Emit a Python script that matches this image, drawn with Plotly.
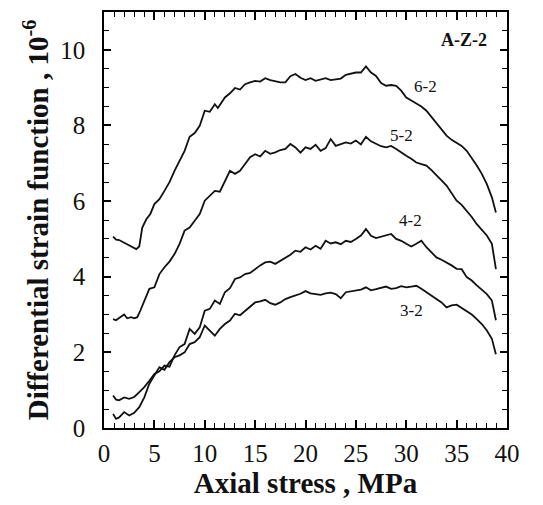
import plotly.graph_objects as go

# ---- data ----
x_62 = [0.9, 1.2, 1.5, 2.0, 2.5, 2.8, 3.2, 3.5, 3.8, 4.2, 4.6, 5.0, 5.5, 6.0, 6.5, 7.0, 7.5, 8.0, 8.5, 9.0, 9.5, 10.0,
        10.5, 11.0, 11.3, 11.7, 12.0, 12.5, 13.0, 13.5, 14.0, 14.5, 15.0, 15.5, 16.0, 16.5, 17.0, 17.5, 18.0, 18.5,
        19.0, 19.5, 20.0, 20.5, 21.0, 21.5, 22.0, 22.5, 23.0, 23.5, 24.0, 24.5, 25.0, 25.5, 26.0, 26.5, 27.0, 27.5,
        28.0, 28.5, 29.0, 29.5, 30.0, 30.5, 31.0, 31.5, 32.0, 32.5, 33.0, 33.5, 34.0, 34.5, 35.0, 35.5, 36.0, 36.5,
        37.0, 37.5, 38.0, 38.5, 38.8, 38.9]
y_62 = [5.06, 4.98, 4.97, 4.90, 4.82, 4.78, 4.73, 4.80, 5.30, 5.52, 5.66, 5.92, 6.05, 6.27, 6.50, 6.80, 7.05, 7.33, 7.70,
        7.80, 7.99, 8.39, 8.36, 8.56, 8.46, 8.62, 8.74, 8.85, 8.99, 8.95, 9.09, 9.14, 9.18, 9.16, 9.25, 9.20, 9.18,
        9.14, 9.14, 9.30, 9.36, 9.26, 9.20, 9.25, 9.18, 9.22, 9.25, 9.20, 9.22, 9.24, 9.34, 9.36, 9.40, 9.40, 9.56,
        9.40, 9.31, 9.12, 9.05, 9.07, 9.05, 8.92, 8.74, 8.66, 8.58, 8.50, 8.39, 8.22, 8.08, 7.90, 7.73, 7.62, 7.55,
        7.46, 7.33, 7.15, 6.94, 6.72, 6.45, 6.10, 5.79, 5.70]

x_52 = [0.9, 1.2, 1.5, 2.0, 2.3, 2.7, 3.0, 3.3, 3.6, 4.0, 4.5, 5.0, 5.5, 6.0, 6.5, 7.0, 7.5, 8.0, 8.5, 9.0, 9.5, 10.0,
        10.5, 11.0, 11.5, 12.0, 12.5, 13.0, 13.5, 14.0, 14.5, 15.0, 15.5, 16.0, 16.5, 17.0, 17.5, 18.0, 18.5, 19.0,
        19.5, 20.0, 20.5, 21.0, 21.5, 22.0, 22.5, 23.0, 23.5, 24.0, 24.5, 25.0, 25.5, 26.0, 26.5, 27.0, 27.5, 28.0,
        28.5, 29.0, 29.5, 30.0, 30.5, 31.0, 31.5, 32.0, 32.5, 33.0, 33.5, 34.0, 34.5, 35.0, 35.5, 36.0, 36.5, 37.0,
        37.5, 38.0, 38.5, 38.8, 38.9]
y_52 = [2.88, 2.85, 2.91, 3.00, 2.90, 2.93, 2.90, 2.93, 3.10, 3.37, 3.68, 3.72, 4.07, 4.25, 4.40, 4.60, 4.87, 5.22, 5.30,
        5.48, 5.66, 6.01, 6.15, 6.27, 6.25, 6.54, 6.80, 6.72, 6.80, 6.98, 7.16, 7.24, 7.18, 7.33, 7.25, 7.29, 7.35,
        7.38, 7.51, 7.42, 7.28, 7.42, 7.38, 7.49, 7.33, 7.40, 7.64, 7.46, 7.50, 7.55, 7.52, 7.60, 7.50, 7.70, 7.58,
        7.51, 7.45, 7.42, 7.46, 7.38, 7.28, 7.20, 7.12, 7.02, 6.98, 6.94, 6.82, 6.67, 6.55, 6.41, 6.22, 6.01, 5.90,
        5.75, 5.58, 5.39, 5.25, 5.09, 4.87, 4.34, 4.20]

x_42 = [0.9, 1.2, 1.5, 2.0, 2.5, 3.0, 3.5, 4.0, 4.5, 5.0, 5.5, 6.0, 6.5, 7.0, 7.5, 8.0, 8.5, 9.0, 9.5, 10.0, 10.5, 11.0,
        11.5, 12.0, 12.5, 13.0, 13.5, 14.0, 14.5, 15.0, 15.5, 16.0, 16.5, 17.0, 17.5, 18.0, 18.5, 19.0, 19.5, 20.0,
        20.5, 21.0, 21.5, 22.0, 22.5, 23.0, 23.5, 24.0, 24.5, 25.0, 25.5, 26.0, 26.5, 27.0, 27.5, 28.0, 28.5, 29.0,
        29.5, 30.0, 30.5, 31.0, 31.5, 32.0, 32.5, 33.0, 33.5, 34.0, 34.5, 35.0, 35.5, 36.0, 36.5, 37.0, 37.5, 38.0,
        38.5, 38.8, 38.9]
y_42 = [0.86, 0.75, 0.73, 0.81, 0.77, 0.82, 0.95, 1.08, 1.25, 1.43, 1.50, 1.65, 1.62, 1.92, 2.14, 2.22, 2.62, 2.49,
        2.66, 3.10, 3.15, 3.37, 3.28, 3.59, 3.70, 3.94, 3.98, 4.07, 4.10, 4.21, 4.30, 4.38, 4.40, 4.34, 4.42, 4.51,
        4.58, 4.69, 4.66, 4.78, 4.72, 4.82, 4.74, 4.95, 4.88, 4.91, 4.86, 4.95, 4.92, 5.00, 5.09, 5.26, 5.08, 5.02,
        5.06, 5.09, 5.13, 5.00, 4.95, 4.87, 4.80, 4.87, 4.95, 4.78, 4.65, 4.51, 4.45, 4.38, 4.30, 4.21, 4.20, 3.99,
        3.90, 3.77, 3.66, 3.54, 3.37, 2.97, 2.85]

x_32 = [0.9, 1.2, 1.5, 2.0, 2.5, 3.0, 3.5, 4.0, 4.5, 5.0, 5.5, 6.0, 6.5, 7.0, 7.5, 8.0, 8.5, 9.0, 9.5, 10.0, 10.5, 11.0,
        11.5, 12.0, 12.5, 13.0, 13.5, 14.0, 14.5, 15.0, 15.5, 16.0, 16.5, 17.0, 17.5, 18.0, 18.5, 19.0, 19.5, 20.0,
        20.5, 21.0, 21.5, 22.0, 22.5, 23.0, 23.5, 24.0, 24.5, 25.0, 25.5, 26.0, 26.5, 27.0, 27.5, 28.0, 28.5, 29.0,
        29.5, 30.0, 30.5, 31.0, 31.5, 32.0, 32.5, 33.0, 33.5, 34.0, 34.5, 35.0, 35.5, 36.0, 36.5, 37.0, 37.5, 38.0,
        38.5, 38.8, 38.9]
y_32 = [0.37, 0.24, 0.28, 0.42, 0.33, 0.40, 0.55, 0.81, 1.17, 1.39, 1.61, 1.54, 1.74, 1.87, 1.92, 2.00, 2.22, 2.27,
        2.40, 2.71, 2.58, 2.44, 2.62, 2.75, 2.84, 3.02, 2.98, 3.10, 3.20, 3.32, 3.35, 3.39, 3.30, 3.26, 3.32, 3.41,
        3.46, 3.50, 3.55, 3.62, 3.56, 3.54, 3.52, 3.56, 3.58, 3.54, 3.43, 3.59, 3.62, 3.63, 3.66, 3.72, 3.64, 3.67,
        3.70, 3.74, 3.68, 3.70, 3.75, 3.72, 3.74, 3.76, 3.68, 3.59, 3.50, 3.41, 3.32, 3.19, 3.24, 3.26, 3.18, 3.10,
        3.00, 2.88, 2.75, 2.58, 2.36, 2.05, 1.95]

series = [("6-2", x_62, y_62), ("5-2", x_52, y_52), ("4-2", x_42, y_42), ("3-2", x_32, y_32)]

# curve labels: (text, x, y)
curve_labels = [("6-2", 31.9, 9.02), ("5-2", 29.5, 7.73), ("4-2", 30.4, 5.48), ("3-2", 30.5, 3.1)]
panel_label = ("A-Z-2", 35.7, 10.25)

x_range = [0, 40]
y_range = [0, 11]
x_tick_step = 5
y_tick_step = 2
x_minor_step = 1
y_minor_step = 0.5

FONT = "Liberation Serif"
INK = "#111111"

fig = go.Figure()
for name, xs, ys in series:
    fig.add_trace(go.Scatter(x=xs, y=ys, mode="lines", name=name,
                             line=dict(color=INK, width=1.8), showlegend=False))

for txt, lx, ly in curve_labels:
    fig.add_annotation(x=lx, y=ly, text=txt, showarrow=False,
                       font=dict(family=FONT, size=17, color=INK))
fig.add_annotation(x=panel_label[1], y=panel_label[2], text=panel_label[0], showarrow=False,
                   font=dict(family=FONT, size=18, color=INK, weight="bold"))

axis_common = dict(showgrid=False, zeroline=False, showline=True, linecolor="black", linewidth=1.6,
                   mirror="allticks", ticks="inside", tickcolor="black", tickwidth=1.7,
                   layer="above traces",
                   tickfont=dict(family=FONT, size=25, color=INK))

fig.update_xaxes(range=x_range, tickmode="linear", tick0=0, dtick=x_tick_step, ticklen=8,
                 ticklabelstandoff=2,
                 minor=dict(tickmode="linear", tick0=0, dtick=x_minor_step, ticks="inside",
                            ticklen=5, tickwidth=1.3, tickcolor="black", showgrid=False),
                 title=dict(text="Axial stress , MPa", standoff=3,
                            font=dict(family=FONT, size=29, color=INK, weight="bold")),
                 **axis_common)
fig.update_yaxes(range=y_range, tickmode="linear", tick0=0, dtick=y_tick_step, ticklen=7,
                 ticklabelstandoff=12,
                 minor=dict(tickmode="linear", tick0=0, dtick=y_minor_step, ticks="inside",
                            ticklen=5, tickwidth=1.3, tickcolor="black", showgrid=False),
                 title=dict(text="Differential strain function , 10<sup>-6</sup>", standoff=3,
                            font=dict(family=FONT, size=29, color=INK, weight="bold")),
                 **axis_common)

fig.update_layout(width=543, height=505, margin=dict(l=104, r=36, t=10, b=77),
                  paper_bgcolor="white", plot_bgcolor="rgba(0,0,0,0)")

fig.write_html("out.html")
